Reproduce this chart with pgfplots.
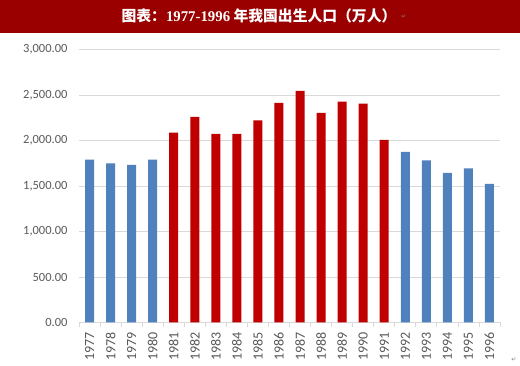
\documentclass[border=0pt]{standalone}
\usepackage{pgfplots}
\pgfplotsset{compat=1.18}
\usepackage{fontspec}
\setmainfont{Carlito}
\newfontfamily\cjk{Noto Sans CJK SC}
\newfontfamily\serifdig{Liberation Serif}
\newfontfamily\sym{DejaVu Sans}
\definecolor{titlered}{HTML}{9A0000}
\definecolor{barblue}{HTML}{4F81BD}
\definecolor{barred}{HTML}{C00000}
\definecolor{gridgray}{HTML}{D9D9D9}
\definecolor{labgray}{HTML}{595959}
\begin{document}
\begin{tikzpicture}[x=1pt,y=1pt]
\fill[white] (0,0) rectangle (520,366);
\fill[titlered] (0,333) rectangle (520,366);
\node[text=white, font=\cjk\bfseries\fontsize{14.8}{17}\selectfont, inner sep=0] at (259,350.5) {图表：{\serifdig\bfseries 1977-1996} 年我国出生人口（万人）};
\node[text=gray, font=\sym\fontsize{6}{7}\selectfont, inner sep=0] at (404,349) {↵};
\node[text=gray, font=\sym\fontsize{6}{7}\selectfont, inner sep=0] at (514,6) {↵};
\begin{axis}[
  at={(79pt,43.5pt)}, anchor=south west,
  scale only axis, width=421pt, height=273pt,
  xmin=-0.5, xmax=19.5, ymin=0, ymax=3000,
  axis x line=bottom, axis y line=left,
  x axis line style={draw=gridgray, line width=0.8pt, -},
  y axis line style={draw=none},
  ytick={0,500,...,3000},
  ymajorgrids, grid style={gridgray, line width=0.8pt},
  xtick={0,...,19},
  xticklabels={1977,1978,1979,1980,1981,1982,1983,1984,1985,1986,1987,1988,1989,1990,1991,1992,1993,1994,1995,1996},
  minor xtick={-0.5,0.5,...,19.5},
  major tick length=0pt, minor tick length=5pt, tick align=outside,
  minor tick style={gridgray, line width=0.8pt},
  xticklabel style={yshift=-6pt, rotate=90, anchor=east, font=\fontsize{14}{16}\selectfont, text=labgray},
  yticklabel style={font=\fontsize{12.5}{14}\selectfont, text=labgray, xshift=-8pt},
  /pgf/number format/assume math mode=true,
  y tick label style={/pgf/number format/.cd, fixed, fixed zerofill, precision=2, 1000 sep={,}},
  scaled y ticks=false,
  ybar, bar width=9pt, bar shift=0pt,
  clip=false,
]
\addplot[fill=barblue, draw=none] coordinates {(0,1790) (1,1749) (2,1731) (3,1790) (15,1874) (16,1782) (17,1643) (18,1694) (19,1522)};
\addplot[fill=barred, draw=none] coordinates {(4,2087) (5,2260) (6,2072) (7,2072) (8,2222) (9,2414) (10,2546) (11,2304) (12,2428) (13,2406) (14,2006)};
\end{axis}
\end{tikzpicture}
\end{document}
